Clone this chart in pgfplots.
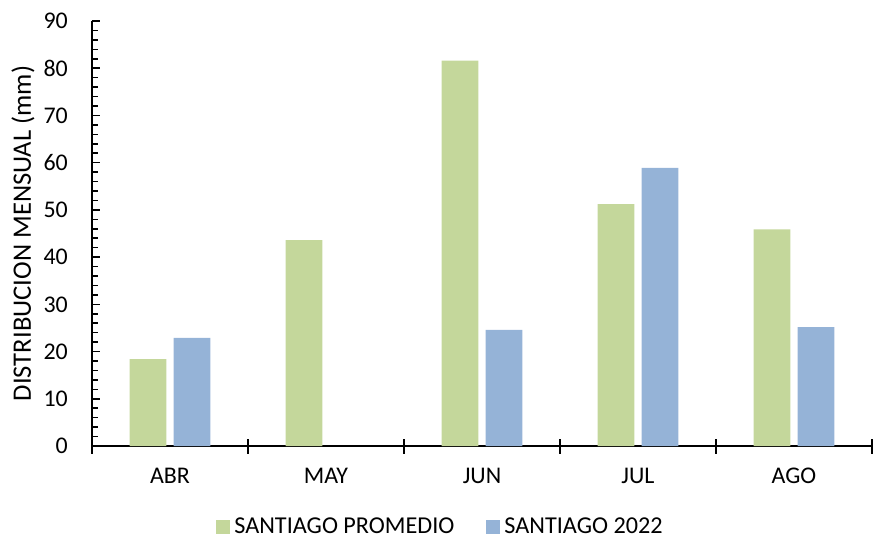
\documentclass[border=0pt]{standalone}
\usepackage{fontspec}
\setmainfont{Carlito}
\usepackage{pgfplots}
\pgfplotsset{compat=1.18}
\definecolor{cgreen}{HTML}{C4D79B}
\definecolor{cblue}{HTML}{95B3D7}
\begin{document}
\fontsize{24}{28}\selectfont
\begin{tikzpicture}
\begin{axis}[
  scale only axis, width=780bp, height=425bp,
  xmin=-0.5, xmax=4.5, ymin=0, ymax=90,
  axis lines=left, axis line style={-, line width=1.5bp, black},
  /pgf/number format/assume math mode=true,
  ytick={0,10,...,90}, minor ytick={0,2,...,90},
  xtick={0,1,2,3,4}, xticklabels={ABR,MAY,JUN,JUL,AGO},
  major x tick style={draw=none},
  extra x ticks={-0.5,0.5,1.5,2.5,3.5,4.5},
  extra x tick labels={},
  extra x tick style={major tick length=15bp, tick align=center, major x tick style={draw=black, line width=1.5bp}},
  tick align=inside,
  major tick length=8bp, minor tick length=6bp,
  tick style={line width=1.5bp, black},
  tick label style={font=\fontsize{24}{28}\selectfont},
  yticklabel style={xshift=-16bp},
  xticklabel style={yshift=-6bp},
  ylabel={DISTRIBUCION MENSUAL (mm)},
  every axis y label/.style={at={(rel axis cs:0,0.5)}, rotate=90, anchor=center, yshift=69bp, font=\fontsize{26.7}{30}\selectfont},
  ybar, bar width=0.237,
  legend style={at={(0.4468,-0.1906)}, anchor=center, draw=none, legend columns=2,
    font=\fontsize{24.3}{28}\selectfont,
    /tikz/every even column/.append style={column sep=30bp},
    /tikz/every odd column/.append style={column sep=2bp}},
  legend cell align=left,
  legend image code/.code={\fill[#1] (0bp,-7bp) rectangle (14bp,7bp);},
  clip=false,
]
\addplot[fill=cgreen, draw=none, bar shift=-0.141] coordinates {(0,18.4) (1,43.6) (2,81.6) (3,51.2) (4,45.9)};
\addplot[fill=cblue, draw=none, bar shift=0.141] coordinates {(0,22.9) (2,24.6) (3,58.9) (4,25.2)};
\legend{SANTIAGO PROMEDIO, SANTIAGO 2022}
\coordinate (O) at (rel axis cs:0,0);
\end{axis}
\pgfresetboundingbox
\path[use as bounding box] (O) ++(-92bp,-98bp) rectangle ++(873bp,544bp);
\end{tikzpicture}
\end{document}
